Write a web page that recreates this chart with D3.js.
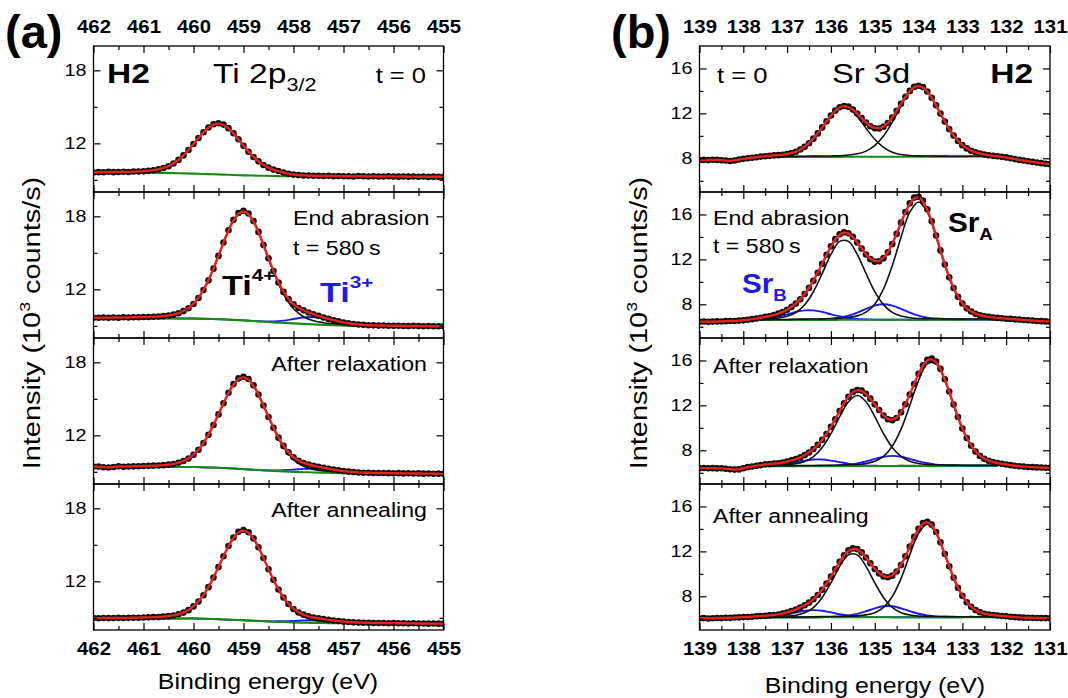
<!DOCTYPE html>
<html><head><meta charset="utf-8">
<script src="https://cdn.jsdelivr.net/npm/d3@7"></script>
<style>
body{margin:0;background:#fff}
svg{display:block}
text{font-family:"Liberation Sans",Arial,Helvetica,sans-serif}
</style>
</head><body>
<svg id="c" width="1068" height="698"></svg>
<script>
// ---------- Energy grids (eV) ----------
const tiE = d3.range(71).map(i => +(462 - 0.1 * i).toFixed(1));      // data grid Ti 2p
const tiCompE = d3.range(36).map(i => +(462 - 0.2 * i).toFixed(1));  // component grid Ti 2p
const srE = d3.range(81).map(i => +(139 - 0.1 * i).toFixed(1));      // data grid Sr 3d
const srCompE = d3.range(28).map(i => +(137.6 - 0.2 * i).toFixed(1)); // component grid Sr 3d

// ---------- Tick values ----------
const tiMajor = [462, 461, 460, 459, 458, 457, 456, 455];
const tiMinor = [461.5, 460.5, 459.5, 458.5, 457.5, 456.5, 455.5];
const srMajor = [139, 138, 137, 136, 135, 134, 133, 132, 131];
const srMinor = [138.5, 137.5, 136.5, 135.5, 134.5, 133.5, 132.5, 131.5];
const tiYMajor = [12, 18], tiYMinor = [9, 15];
const srYMajor = [8, 12, 16], srYMinor = [6, 10, 14];

// ---------- Ti 2p3/2 measured intensity (10^3 counts/s) ----------
const tiT0 = [9.60,9.63,9.62,9.66,9.63,9.65,9.67,9.64,9.68,9.69,9.71,9.74,9.79,9.86,9.97,10.12,10.34,10.64,11.01,11.45,11.94,12.44,12.91,13.30,13.57,13.65,13.54,13.25,12.83,12.33,11.80,11.31,10.88,10.52,10.22,10.00,9.84,9.72,9.60,9.50,9.43,9.39,9.36,9.35,9.34,9.33,9.31,9.33,9.30,9.31,9.29,9.30,9.28,9.31,9.29,9.28,9.30,9.27,9.28,9.29,9.27,9.26,9.28,9.26,9.27,9.25,9.27,9.24,9.26,9.25,9.24];
const tiAbr = [9.67,9.66,9.68,9.66,9.69,9.67,9.70,9.68,9.71,9.70,9.72,9.73,9.75,9.77,9.80,9.85,9.92,10.03,10.21,10.45,10.80,11.29,11.94,12.74,13.70,14.75,15.84,16.86,17.71,18.27,18.45,18.23,17.62,16.72,15.65,14.55,13.50,12.56,11.79,11.20,10.76,10.47,10.28,10.10,9.95,9.82,9.69,9.57,9.46,9.37,9.28,9.21,9.15,9.11,9.08,9.05,9.04,9.02,9.03,9.01,9.00,9.01,8.99,8.98,9.00,8.98,8.97,8.98,8.96,8.97,8.96];
const tiRel = [9.44,9.43,9.38,9.36,9.40,9.45,9.42,9.44,9.45,9.46,9.48,9.49,9.51,9.52,9.55,9.59,9.65,9.75,9.89,10.10,10.41,10.82,11.36,12.04,12.85,13.72,14.64,15.50,16.21,16.68,16.82,16.63,16.11,15.36,14.45,13.51,12.62,11.81,11.13,10.60,10.19,9.91,9.73,9.60,9.50,9.41,9.34,9.25,9.19,9.12,9.06,9.02,8.98,8.95,8.93,8.92,8.91,8.90,8.91,8.89,8.88,8.89,8.87,8.88,8.86,8.87,8.85,8.86,8.84,8.85,8.84];
const tiAnn = [8.98,8.97,8.99,8.98,8.99,9.00,8.99,9.00,9.01,9.01,9.03,9.04,9.06,9.06,9.10,9.14,9.19,9.29,9.43,9.63,9.94,10.34,10.86,11.52,12.31,13.17,14.06,14.91,15.60,16.08,16.22,16.04,15.53,14.80,13.92,12.99,12.12,11.33,10.67,10.14,9.73,9.44,9.26,9.12,9.02,8.96,8.90,8.83,8.78,8.74,8.69,8.66,8.63,8.61,8.60,8.59,8.58,8.57,8.58,8.56,8.57,8.55,8.56,8.54,8.55,8.53,8.54,8.52,8.53,8.52,8.51];

// ---------- Ti 2p fit: background (absolute) and components (above background) ----------
const tiBgT0  = [9.58,9.58,9.58,9.58,9.58,9.58,9.58,9.57,9.55,9.53,9.51,9.48,9.46,9.43,9.40,9.37,9.35,9.33,9.31,9.30,9.29,9.29,9.28,9.28,9.27,9.27,9.27,9.26,9.26,9.26,9.25,9.25,9.25,9.24,9.24,9.24];
const tiBgAbr = [9.62,9.62,9.62,9.62,9.62,9.62,9.62,9.61,9.61,9.60,9.60,9.58,9.56,9.53,9.49,9.45,9.40,9.34,9.28,9.24,9.20,9.16,9.12,9.08,9.05,9.02,9.00,8.99,8.98,8.97,8.97,8.96,8.96,8.95,8.95,8.94];
const tiBgRel = [9.40,9.40,9.40,9.40,9.40,9.40,9.40,9.40,9.40,9.40,9.40,9.37,9.35,9.31,9.27,9.22,9.17,9.12,9.08,9.04,9.00,8.97,8.95,8.92,8.90,8.88,8.87,8.86,8.86,8.85,8.85,8.85,8.84,8.84,8.83,8.83];
const tiBgAnn = [8.95,8.95,8.95,8.95,8.95,8.95,8.95,8.95,8.95,8.95,8.95,8.92,8.90,8.86,8.83,8.80,8.76,8.72,8.68,8.66,8.62,8.60,8.58,8.57,8.56,8.55,8.55,8.54,8.54,8.54,8.53,8.53,8.53,8.52,8.52,8.52];
const ti4T0  = [0.03,0.03,0.04,0.05,0.06,0.11,0.19,0.39,0.79,1.48,2.43,3.43,4.11,4.11,3.43,2.43,1.48,0.85,0.50,0.28,0.15,0.06,0.05,0.04,0.03,0.03,0.02,0.02,0.02,0.02,0.02,0.02,0.02,0.02,0.02,0.02];
const ti4Abr = [0.05,0.05,0.06,0.07,0.08,0.10,0.13,0.18,0.30,0.59,1.20,2.36,4.14,6.31,8.22,9.00,8.22,6.31,4.14,2.36,1.20,0.59,0.30,0.18,0.13,0.10,0.08,0.07,0.06,0.05,0.05,0.04,0.04,0.04,0.03,0.03];
const ti4Rel = [0.04,0.05,0.05,0.06,0.07,0.08,0.11,0.15,0.25,0.49,1.01,1.99,3.50,5.33,6.94,7.60,6.94,5.33,3.50,1.99,1.01,0.49,0.25,0.15,0.11,0.08,0.07,0.06,0.05,0.05,0.04,0.03,0.03,0.03,0.03,0.03];
const ti4Ann = [0.04,0.04,0.05,0.06,0.07,0.08,0.10,0.15,0.24,0.48,0.99,1.94,3.41,5.20,6.77,7.42,6.77,5.20,3.41,1.94,0.99,0.48,0.24,0.15,0.10,0.08,0.07,0.06,0.05,0.04,0.04,0.03,0.03,0.03,0.03,0.03];
const ti3Abr = [0,0,0,0,0,0,0,0,0,0,0,0,0,0,0,0,0,0.03,0.08,0.19,0.36,0.53,0.60,0.53,0.36,0.19,0.08,0.03,0,0,0,0,0,0,0,0];
const ti3Rel = [0,0,0,0,0,0,0,0,0,0,0,0,0,0,0,0,0,0.01,0.04,0.10,0.18,0.27,0.30,0.27,0.18,0.10,0.04,0.01,0,0,0,0,0,0,0,0];
const ti3Ann = [0,0,0,0,0,0,0,0,0,0,0,0,0,0,0,0,0,0.01,0.03,0.07,0.12,0.18,0.20,0.18,0.12,0.06,0.03,0.01,0,0,0,0,0,0,0,0];

// ---------- Sr 3d measured intensity (10^3 counts/s) ----------
const srT0 = [7.85,7.86,7.84,7.87,7.86,7.83,7.80,7.76,7.80,7.90,7.95,8.00,8.05,8.10,8.15,8.18,8.22,8.26,8.28,8.32,8.38,8.47,8.58,8.78,9.02,9.34,9.75,10.22,10.75,11.29,11.81,12.25,12.54,12.66,12.60,12.35,11.99,11.58,11.18,10.86,10.68,10.66,10.81,11.14,11.62,12.22,12.86,13.48,14.00,14.36,14.46,14.34,13.95,13.39,12.72,11.98,11.27,10.60,10.02,9.55,9.17,8.88,8.67,8.53,8.43,8.33,8.27,8.22,8.18,8.13,8.08,8.00,7.93,7.86,7.80,7.74,7.68,7.62,7.57,7.52,7.48];
const srAbr = [6.45,6.47,6.44,6.46,6.48,6.47,6.50,6.52,6.51,6.55,6.57,6.63,6.68,6.74,6.80,6.89,6.94,7.05,7.17,7.32,7.51,7.77,8.07,8.44,8.91,9.46,10.09,10.81,11.60,12.41,13.16,13.80,14.24,14.41,14.33,14.01,13.51,12.97,12.44,12.02,11.80,11.84,12.11,12.62,13.36,14.27,15.27,16.22,17.00,17.50,17.57,17.23,16.46,15.39,14.13,12.80,11.55,10.40,9.45,8.67,8.07,7.64,7.36,7.15,7.02,6.93,6.88,6.83,6.79,6.76,6.72,6.70,6.66,6.64,6.60,6.58,6.55,6.52,6.50,6.48,6.45];
const srRel = [6.40,6.42,6.40,6.41,6.39,6.40,6.36,6.31,6.28,6.30,6.40,6.50,6.56,6.62,6.68,6.75,6.77,6.81,6.85,6.90,7.00,7.10,7.22,7.37,7.57,7.81,8.11,8.48,8.93,9.45,10.09,10.77,11.50,12.19,12.77,13.20,13.37,13.33,13.03,12.60,12.09,11.59,11.10,10.76,10.68,10.88,11.38,12.10,12.96,13.90,14.82,15.57,16.07,16.16,15.91,15.25,14.33,13.23,12.07,10.96,9.94,9.10,8.41,7.89,7.50,7.24,7.07,6.95,6.87,6.80,6.74,6.68,6.63,6.58,6.55,6.52,6.50,6.48,6.47,6.45,6.44];
const srAnn = [6.04,6.06,6.03,6.05,6.07,6.06,6.09,6.08,6.11,6.12,6.15,6.16,6.18,6.23,6.24,6.26,6.30,6.34,6.38,6.47,6.56,6.69,6.83,7.01,7.20,7.44,7.74,8.12,8.59,9.13,9.75,10.42,11.08,11.66,12.09,12.27,12.20,11.91,11.46,10.94,10.43,10.04,9.77,9.70,9.84,10.21,10.79,11.56,12.42,13.29,14.02,14.52,14.64,14.38,13.73,12.82,11.77,10.67,9.65,8.76,8.04,7.47,7.06,6.77,6.58,6.45,6.38,6.33,6.29,6.25,6.22,6.18,6.15,6.12,6.10,6.09,6.08,6.07,6.06,6.06,6.05];

// ---------- Sr 3d fit: background (absolute) and components (above background) ----------
const srBgT0  = [8.12,8.12,8.12,8.12,8.13,8.13,8.13,8.13,8.13,8.13,8.14,8.14,8.14,8.14,8.14,8.14,8.14,8.14,8.15,8.15,8.15,8.15,8.15,8.15,8.16,8.16,8.16,8.16];
const srBgAbr = [6.60,6.60,6.60,6.60,6.61,6.61,6.61,6.61,6.61,6.62,6.62,6.62,6.62,6.62,6.62,6.62,6.63,6.63,6.63,6.63,6.64,6.64,6.64,6.64,6.65,6.65,6.65,6.65];
const srBgRel = [6.58,6.58,6.58,6.58,6.59,6.59,6.59,6.59,6.59,6.60,6.60,6.60,6.60,6.60,6.60,6.60,6.61,6.61,6.61,6.61,6.61,6.62,6.62,6.62,6.62,6.62,6.63,6.63];
const srBgAnn = [6.12,6.12,6.12,6.12,6.12,6.12,6.12,6.13,6.13,6.13,6.13,6.13,6.13,6.13,6.13,6.13,6.13,6.14,6.14,6.14,6.14,6.14,6.14,6.14,6.15,6.15,6.15,6.15];
const srA52T0  = [0.03,0.03,0.03,0.04,0.04,0.05,0.06,0.07,0.08,0.10,0.16,0.26,0.50,0.99,1.84,3.08,4.52,5.75,6.25,5.75,4.52,3.08,1.84,0.99,0.50,0.26,0.16,0.10];
const srA32T0  = [0.05,0.07,0.11,0.20,0.40,0.83,1.55,2.54,3.59,4.30,4.30,3.59,2.54,1.55,0.83,0.40,0.20,0.11,0.07,0.05,0.04,0.04,0.03,0.03,0.03,0.02,0.02,0.02];
const srA52Abr = [0.04,0.04,0.05,0.05,0.06,0.07,0.08,0.09,0.12,0.15,0.21,0.35,0.68,1.39,2.75,4.82,7.35,9.57,10.48,9.57,7.35,4.82,2.75,1.39,0.68,0.35,0.21,0.15];
const srA32Abr = [0.09,0.11,0.18,0.33,0.66,1.35,2.51,4.13,5.83,6.98,6.98,5.83,4.13,2.51,1.35,0.66,0.33,0.18,0.11,0.09,0.07,0.06,0.05,0.04,0.04,0.04,0.04,0.03];
const srB52Abr = [0.01,0.01,0.01,0.01,0.02,0.02,0.03,0.05,0.09,0.18,0.36,0.63,0.97,1.26,1.38,1.26,0.97,0.63,0.36,0.18,0.09,0.05,0.03,0.02,0.02,0.01,0.01,0.01];
const srB32Abr = [0.08,0.16,0.31,0.50,0.71,0.85,0.85,0.71,0.50,0.31,0.16,0.08,0.04,0.02,0.01,0.01,0.01,0,0,0,0,0,0,0,0,0,0,0];
const srA52Rel = [0.03,0.03,0.04,0.05,0.05,0.06,0.06,0.07,0.08,0.09,0.11,0.14,0.23,0.43,0.86,1.76,3.27,5.38,7.60,9.10,9.10,7.60,5.38,3.27,1.76,0.86,0.43,0.23];
const srA32Rel = [0.06,0.07,0.09,0.13,0.21,0.41,0.84,1.65,2.89,4.40,5.73,6.28,5.73,4.40,2.89,1.65,0.84,0.41,0.21,0.13,0.09,0.07,0.06,0.05,0.04,0.04,0.04,0.03];
const srB52Rel = [0.01,0.01,0.01,0.01,0.01,0.01,0.02,0.02,0.03,0.06,0.12,0.24,0.41,0.63,0.82,0.90,0.82,0.63,0.41,0.24,0.12,0.06,0.03,0.02,0.01,0.01,0.01,0.01];
const srB32Rel = [0.03,0.06,0.11,0.21,0.35,0.49,0.59,0.59,0.49,0.35,0.21,0.11,0.06,0.03,0.01,0.01,0.01,0,0,0,0,0,0,0,0,0,0,0];
const srA52Ann = [0.02,0.02,0.02,0.03,0.03,0.04,0.05,0.06,0.07,0.07,0.10,0.13,0.22,0.41,0.88,1.85,3.45,5.55,7.47,8.28,7.47,5.55,3.45,1.85,0.88,0.41,0.22,0.13];
const srA32Ann = [0.05,0.06,0.07,0.11,0.20,0.41,0.88,1.77,3.07,4.54,5.56,5.56,4.54,3.07,1.77,0.88,0.41,0.20,0.11,0.07,0.06,0.05,0.05,0.04,0.04,0.03,0.03,0.03];
const srB52Ann = [0.01,0.01,0.01,0.01,0.01,0.02,0.02,0.02,0.04,0.07,0.16,0.31,0.54,0.80,0.98,0.98,0.80,0.54,0.31,0.16,0.07,0.04,0.02,0.02,0.01,0.01,0.01,0.01];
const srB32Ann = [0.03,0.07,0.14,0.27,0.44,0.59,0.65,0.59,0.44,0.27,0.14,0.07,0.03,0.02,0.02,0.01,0.01,0,0,0,0,0,0,0,0,0,0,0];

// ---------- Drawing ----------
const svg = d3.select("#c");
const SX = 1.16;
const C = {red: "#e8221a", green: "#168c18", blue: "#1a1af0", black: "#111"};
const tops = [46, 192, 338, 484], PH = 146;

function rich(x, y, segs, o) {
  const tr = `translate(${x},${y})` + (o.rot ? ` rotate(${o.rot})` : "") + ` scale(${o.sx ?? SX},1)`;
  const t = svg.append("text").attr("transform", tr)
    .attr("text-anchor", o.anchor || "start").attr("font-size", o.size)
    .attr("font-weight", o.bold ? "bold" : "normal").attr("fill", o.fill || "#000");
  let cur = 0;
  segs.forEach(s => {
    const sp = t.append("tspan").text(s.t);
    const sh = s.shift || 0;
    if (sh !== cur) sp.attr("dy", sh - cur);
    cur = sh;
    if (s.size) sp.attr("font-size", s.size);
  });
  return t;
}

function drawSet(cfg) {
  const x = d3.scaleLinear().domain(cfg.xDomain).range(cfg.xRange);
  const [x0, x1] = cfg.xRange;
  cfg.panels.forEach((p, i) => {
    const top = tops[i];
    const y = d3.scaleLinear().domain(cfg.yDomain).range([top + PH, top]);
    const cid = `${cfg.id}clip${i}`;
    svg.append("clipPath").attr("id", cid).append("rect")
      .attr("x", x0).attr("y", top).attr("width", x1 - x0).attr("height", PH);
    const g = svg.append("g").attr("clip-path", `url(#${cid})`);
    const comp = (vals) => d3.line().defined((d, k) => vals[k] != null)
      .x((d, k) => x(cfg.compE[k])).y((d, k) => y(p.bg[k] + vals[k])).curve(d3.curveCatmullRom);
    // blue components
    (p.blue || []).forEach(arr => {
      g.append("path").datum(arr).attr("d", comp(arr)).attr("fill", "none")
        .attr("stroke", C.blue).attr("stroke-width", 1.9);
    });
    // green background
    g.append("path").datum(p.bg)
      .attr("d", d3.line().x((d, k) => x(cfg.compE[k])).y(d => y(d)).curve(d3.curveCatmullRom))
      .attr("fill", "none").attr("stroke", C.green).attr("stroke-width", 2.1);
    // black components
    (p.black || []).forEach(arr => {
      g.append("path").datum(arr).attr("d", comp(arr)).attr("fill", "none")
        .attr("stroke", C.black).attr("stroke-width", 1.6);
    });
    // data points
    g.selectAll("circle.d").data(p.data).enter().append("circle")
      .attr("cx", (d, k) => x(cfg.dataE[k])).attr("cy", d => y(d)).attr("r", 3.3)
      .attr("fill", "#101010");
    // red envelope
    g.append("path").datum(p.data)
      .attr("d", d3.line().x((d, k) => x(cfg.dataE[k])).y(d => y(d)).curve(d3.curveBasis))
      .attr("fill", "none").attr("stroke", C.red).attr("stroke-width", 2.4);

    // frame
    svg.append("rect").attr("x", x0).attr("y", top).attr("width", x1 - x0).attr("height", PH)
      .attr("fill", "none").attr("stroke", "#000").attr("stroke-width", 1.3);
    // ticks (inward)
    const ax = (axis, tx, ty) => {
      const a = svg.append("g").attr("transform", `translate(${tx},${ty})`).call(axis);
      a.select(".domain").remove();
      a.selectAll("line").attr("stroke", "#000").attr("stroke-width", 1.2);
      return a;
    };
    ax(d3.axisBottom(x).tickValues(cfg.xMajor).tickSize(7).tickFormat(""), 0, top);
    ax(d3.axisBottom(x).tickValues(cfg.xMinor).tickSize(4).tickFormat(""), 0, top);
    ax(d3.axisTop(x).tickValues(cfg.xMajor).tickSize(7).tickFormat(""), 0, top + PH);
    ax(d3.axisTop(x).tickValues(cfg.xMinor).tickSize(4).tickFormat(""), 0, top + PH);
    ax(d3.axisRight(y).tickValues(cfg.yMajor).tickSize(7).tickFormat(""), x0, 0);
    ax(d3.axisRight(y).tickValues(cfg.yMinor).tickSize(4).tickFormat(""), x0, 0);
    ax(d3.axisLeft(y).tickValues(cfg.yMajor).tickSize(7).tickFormat(""), x1, 0);
    ax(d3.axisLeft(y).tickValues(cfg.yMinor).tickSize(4).tickFormat(""), x1, 0);
    // y labels
    const yl = ax(d3.axisLeft(y).tickValues(cfg.yMajor).tickSize(0).tickPadding(6).tickFormat(d3.format("d")), x0, 0);
    yl.selectAll("text").attr("font-size", 17).attr("font-family", null).attr("fill", "#000")
      .attr("transform", `scale(${SX},1)`);
  });
  // top and bottom tick labels
  const lab = (axis, ty) => {
    const a = svg.append("g").attr("transform", `translate(0,${ty})`).call(axis);
    a.select(".domain").remove();
    a.selectAll("text").attr("font-size", 18.5).attr("font-weight", "bold")
      .attr("font-family", null).attr("fill", "#000").attr("transform", "scale(1.1,1)");
  };
  lab(d3.axisTop(x).tickValues(cfg.xMajor).tickSize(0).tickPadding(13).tickFormat(d3.format("d")), tops[0]);
  lab(d3.axisBottom(x).tickValues(cfg.xMajor).tickSize(0).tickPadding(12).tickFormat(d3.format("d")), tops[3] + PH);
}

drawSet({
  id: "a", xDomain: [462, 455], xRange: [93.5, 443.5], yDomain: [8, 20],
  dataE: tiE, compE: tiCompE, xMajor: tiMajor, xMinor: tiMinor, yMajor: tiYMajor, yMinor: tiYMinor,
  panels: [
    {data: tiT0, bg: tiBgT0, black: [ti4T0], blue: []},
    {data: tiAbr, bg: tiBgAbr, black: [ti4Abr], blue: [ti3Abr]},
    {data: tiRel, bg: tiBgRel, black: [ti4Rel], blue: [ti3Rel]},
    {data: tiAnn, bg: tiBgAnn, black: [ti4Ann], blue: [ti3Ann]}
  ]
});
drawSet({
  id: "b", xDomain: [139, 131], xRange: [699.5, 1050], yDomain: [5, 18],
  dataE: srE, compE: srCompE, xMajor: srMajor, xMinor: srMinor, yMajor: srYMajor, yMinor: srYMinor,
  panels: [
    {data: srT0, bg: srBgT0, black: [srA52T0, srA32T0], blue: []},
    {data: srAbr, bg: srBgAbr, black: [srA52Abr, srA32Abr], blue: [srB52Abr, srB32Abr]},
    {data: srRel, bg: srBgRel, black: [srA52Rel, srA32Rel], blue: [srB52Rel, srB32Rel]},
    {data: srAnn, bg: srBgAnn, black: [srA52Ann, srA32Ann], blue: [srB52Ann, srB32Ann]}
  ]
});

// ---------- Text annotations ----------
rich(5, 48, [{t: "(a)"}], {size: 47, bold: true, sx: 1});
rich(611, 48, [{t: "(b)"}], {size: 47, bold: true, sx: 1});

rich(107, 83, [{t: "H2"}], {size: 27, bold: true, sx: 1.24});
rich(213, 83, [{t: "Ti 2p"}, {t: "3/2", size: 18, shift: 8}], {size: 28, sx: 1.2});
rich(426, 83, [{t: "t = 0"}], {size: 22, anchor: "end"});
rich(293, 225, [{t: "End abrasion"}], {size: 20.5, sx: 1.13});
rich(293, 255, [{t: "t = 580\u2009s"}], {size: 20.5, sx: 1.13});
rich(222, 295, [{t: "Ti"}, {t: "4+", size: 17, shift: -14}], {size: 28, bold: true, sx: 1.22});
rich(320, 302, [{t: "Ti"}, {t: "3+", size: 17, shift: -14}], {size: 28, bold: true, sx: 1.22, fill: C.blue});
rich(427, 371, [{t: "After relaxation"}], {size: 20.5, sx: 1.13, anchor: "end"});
rich(427, 517, [{t: "After annealing"}], {size: 20.5, sx: 1.13, anchor: "end"});

rich(717, 83, [{t: "t = 0"}], {size: 22});
rich(832, 83, [{t: "Sr 3d"}], {size: 28, sx: 1.17});
rich(1033, 83, [{t: "H2"}], {size: 27, bold: true, sx: 1.24, anchor: "end"});
rich(713, 225, [{t: "End abrasion"}], {size: 20.5, sx: 1.13});
rich(713, 253, [{t: "t = 580\u2009s"}], {size: 20.5, sx: 1.13});
rich(948, 232, [{t: "Sr"}, {t: "A", size: 17, shift: 8}], {size: 27, bold: true, sx: 1.1});
rich(742, 293, [{t: "Sr"}, {t: "B", size: 17, shift: 8}], {size: 27, bold: true, sx: 1.1, fill: C.blue});
rich(713, 373, [{t: "After relaxation"}], {size: 20.5, sx: 1.13});
rich(713, 523, [{t: "After annealing"}], {size: 20.5, sx: 1.13});

// axis titles
rich(268, 689, [{t: "Binding energy (eV)"}], {size: 21.5, anchor: "middle"});
rich(875, 693, [{t: "Binding energy (eV)"}], {size: 21.5, anchor: "middle"});
rich(40, 323, [{t: "Intensity (10"}, {t: "3", size: 15, shift: -10}, {t: " counts/s)", shift: 0}], {size: 24.5, anchor: "middle", rot: -90, sx: 1.18});
rich(647, 323, [{t: "Intensity (10"}, {t: "3", size: 15, shift: -10}, {t: " counts/s)", shift: 0}], {size: 24.5, anchor: "middle", rot: -90, sx: 1.18});
</script>
</body></html>
